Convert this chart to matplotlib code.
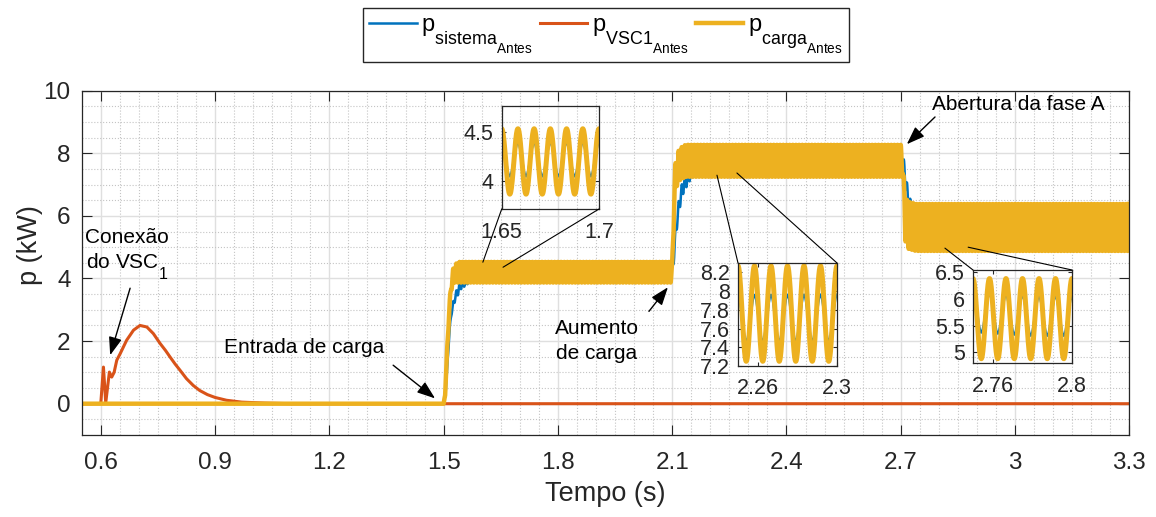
import numpy as np
import matplotlib
matplotlib.use('Agg')
import matplotlib.pyplot as plt
import matplotlib._mathtext as mtext
from matplotlib.patches import ConnectionPatch

plt.rcParams['font.family'] = ['Liberation Sans', 'DejaVu Sans']
plt.rcParams['mathtext.fontset'] = 'custom'
plt.rcParams['mathtext.rm'] = 'Liberation Sans'
plt.rcParams['mathtext.it'] = 'Liberation Sans'
plt.rcParams['mathtext.bf'] = 'Liberation Sans:bold'
# MATLAB-like subscripts: larger and dropped further
mtext.SHRINK_FACTOR = 0.76
mtext.FontConstantsBase.sub1 = 1.0

# ---- data ----
# VSC1 power (kW)
vsc_t = [0.55, 0.600, 0.607, 0.613, 0.6226, 0.6287, 0.635, 0.642, 0.651, 0.668,
         0.686, 0.703, 0.721, 0.738, 0.756, 0.77, 0.782, 0.795, 0.808, 0.825,
         0.843, 0.86, 0.88, 0.90, 0.93, 0.97, 1.03, 1.10, 3.3]
vsc_p = [0.0, 0.0, 1.17, 0.03, 1.01, 0.85, 1.0, 1.39, 1.6, 2.03,
         2.35, 2.50, 2.45, 2.24, 1.92, 1.7, 1.49, 1.27, 1.07, 0.8,
         0.58, 0.42, 0.29, 0.2, 0.11, 0.05, 0.02, 0.0, 0.0]

# load power: envelope (mean and half swing) of the 120 Hz ripple
load_t = [0.55, 1.5, 1.504, 1.51, 1.515, 1.52, 1.527, 1.54, 2.1, 2.102,
          2.105, 2.11, 2.12, 2.135, 2.705, 2.708, 2.712, 2.72, 2.74, 3.3]
load_mean = [0.0, 0.0, 0.3, 1.9, 3.0, 3.8, 4.15, 4.2, 4.2, 5.0,
             6.6, 7.4, 7.65, 7.76, 7.76, 6.6, 5.9, 5.7, 5.63, 5.63]
load_amp = [0.0, 0.0, 0.03, 0.08, 0.12, 0.18, 0.28, 0.33, 0.33, 0.4,
            0.5, 0.51, 0.51, 0.51, 0.51, 0.6, 0.7, 0.75, 0.75, 0.75]

# system power: envelope
sys_t = [0.55, 1.5, 1.505, 1.51, 1.515, 1.52, 1.53, 1.545, 1.57, 1.6,
         2.1, 2.105, 2.11, 2.12, 2.13, 2.15, 2.18, 2.705, 2.71, 2.715,
         2.72, 2.73, 2.75, 2.78, 3.3]
sys_mean = [0.0, 0.0, 0.3, 1.3, 2.2, 2.9, 3.4, 3.8, 4.05, 4.22,
            4.22, 4.8, 5.6, 6.5, 7.0, 7.45, 7.7, 7.76, 7.4, 6.9,
            6.4, 6.0, 5.75, 5.68, 5.68]
sys_amp = [0.0, 0.0, 0.02, 0.05, 0.08, 0.1, 0.12, 0.15, 0.16, 0.17,
           0.17, 0.2, 0.23, 0.25, 0.25, 0.25, 0.25, 0.25, 0.28, 0.3,
           0.33, 0.36, 0.37, 0.37, 0.37]
ripple_hz = 120

xticks = [0.6, 0.9, 1.2, 1.5, 1.8, 2.1, 2.4, 2.7, 3.0, 3.3]
xticklabels = ['0.6', '0.9', '1.2', '1.5', '1.8', '2.1', '2.4', '2.7', '3', '3.3']
yticks = [0, 2, 4, 6, 8, 10]

zoom1_x, zoom1_y = [1.65, 1.7], [4, 4.5]
zoom2_x, zoom2_y = [2.26, 2.3], [7.2, 7.4, 7.6, 7.8, 8, 8.2]
zoom3_x, zoom3_y = [2.76, 2.8], [5, 5.5, 6, 6.5]

c_sys, c_vsc, c_load = '#0072BD', '#D95319', '#EDB120'
dark = '#262626'

t = np.arange(0.55, 3.3001, 1e-4)
wave = np.cos(2 * np.pi * ripple_hz * t)
p_load = np.interp(t, load_t, load_mean) + np.interp(t, load_t, load_amp) * wave
p_sys = np.interp(t, sys_t, sys_mean) + np.interp(t, sys_t, sys_amp) * wave

fig = plt.figure(figsize=(11.56, 5.17), dpi=100)
ax = fig.add_axes([0.0707, 0.1586, 0.9062, 0.666])

l1, = ax.plot(t, p_sys, color=c_sys, lw=1.8)
l2, = ax.plot(vsc_t, vsc_p, color=c_vsc, lw=2.2)
l3, = ax.plot(t, p_load, color=c_load, lw=3.2)

ax.set_xlim(0.55, 3.3)
ax.set_ylim(-1, 10)
ax.set_xticks(xticks)
ax.set_xticklabels(xticklabels)
ax.set_yticks(yticks)
ax.set_xticks(np.arange(0.55, 3.3001, 0.05), minor=True)
ax.set_yticks(np.arange(-1, 10.001, 0.5), minor=True)
ax.tick_params(which='major', direction='in', length=7.5, width=0.8,
               top=True, right=True, labelsize=17.5, colors=dark)
ax.tick_params(axis='x', pad=12)
ax.tick_params(axis='y', pad=8)
ax.tick_params(which='minor', length=0)
ax.grid(which='major', color='#dfdfdf', lw=1.0)
ax.grid(which='minor', color='#c4c4c4', ls=':', lw=0.8)
ax.set_axisbelow(True)
for s in ax.spines.values():
    s.set_color(dark)
    s.set_linewidth(0.9)
ax.set_xlabel('Tempo (s)', fontsize=19.5, color=dark, labelpad=5)
ax.set_ylabel('p (kW)', fontsize=19.5, color=dark)
ax.yaxis.set_label_coords(-0.037, 0.552)

fig.legend([l1, l2, l3],
           [r'$\mathregular{p_{sistema_{Antes}}}$',
            r'$\mathregular{p_{VSC1_{Antes}}}$',
            r'$\mathregular{p_{carga_{Antes}}}$'],
           loc='upper center', bbox_to_anchor=(606 / 1156, 1 - 8 / 517),
           ncol=3, fontsize=17, fancybox=False, edgecolor=dark,
           framealpha=1, handlelength=2.0, handletextpad=0.2,
           columnspacing=0.3, borderpad=0.25, borderaxespad=0)

# annotations
arrow = dict(arrowstyle='-|>,head_length=1.1,head_width=0.4', color='k',
             lw=1.0, shrinkA=0, shrinkB=0, mutation_scale=10)
fs_note = 15
ax.text(0.669, 4.77, 'Conexão\ndo VSC$_{1}$', fontsize=fs_note, ha='center',
        va='center', linespacing=1.2)
ax.annotate('', xy=(0.6247, 1.55), xytext=(0.677, 3.69), arrowprops=arrow)
ax.text(1.1333, 1.80, 'Entrada de carga', fontsize=fs_note, ha='center', va='center')
ax.annotate('', xy=(1.4775, 0.17), xytext=(1.3675, 1.23), arrowprops=arrow)
ax.text(1.9026, 2.0, 'Aumento\nde carga', fontsize=fs_note, ha='center',
        va='center', linespacing=1.35)
ax.annotate('', xy=(2.0888, 3.72), xytext=(2.039, 2.95), arrowprops=arrow)
ax.text(3.0076, 9.57, 'Abertura da fase A', fontsize=fs_note, ha='center', va='center')
ax.annotate('', xy=(2.716, 8.29), xytext=(2.79, 9.16), arrowprops=arrow)


def inset(rect_px, xlim, ylim, xt, yt):
    x0, y0, x1, y1 = rect_px
    a = fig.add_axes([x0 / 1156, 1 - y1 / 517, (x1 - x0) / 1156, (y1 - y0) / 517])
    a.set_facecolor('none')
    a.plot(t, p_sys, color=c_sys, lw=1.8)
    a.plot(t, p_load, color=c_load, lw=3.6)
    a.set_xlim(*xlim)
    a.set_ylim(*ylim)
    a.set_xticks(xt)
    a.set_xticklabels([f'{v:g}' for v in xt])
    a.set_yticks(yt)
    a.set_yticklabels([f'{v:g}' for v in yt])
    a.tick_params(direction='in', length=3, width=0.8, top=True, right=True,
                  labelsize=15.5, colors=dark)
    a.tick_params(axis='x', pad=9)
    a.tick_params(axis='y', pad=6)
    for s in a.spines.values():
        s.set_color(dark)
        s.set_linewidth(0.9)
    return a


ins1 = inset((501.7, 106, 599, 209), (1.65, 1.7), (3.72, 4.76), zoom1_x, zoom1_y)
ins2 = inset((738, 263, 837, 366), (2.25, 2.3), (7.2, 8.3), zoom2_x, zoom2_y)
ins3 = inset((973, 270, 1072, 363), (2.75, 2.8), (4.8, 6.54), zoom3_x, zoom3_y)

links = [(ins1, (0, 0), (1.603, 4.52)), (ins1, (1, 0), (1.656, 4.36)),
         (ins2, (0, 1), (2.2176, 7.30)), (ins2, (1, 1), (2.270, 7.37)),
         (ins3, (0, 1), (2.816, 4.97)), (ins3, (1, 1), (2.877, 5.0))]
for a, corner, pt in links:
    con = ConnectionPatch(xyA=corner, coordsA=a.transAxes, xyB=pt,
                          coordsB=ax.transData, color='k', lw=0.8)
    fig.add_artist(con)

fig.savefig('out.png', dpi=100)
